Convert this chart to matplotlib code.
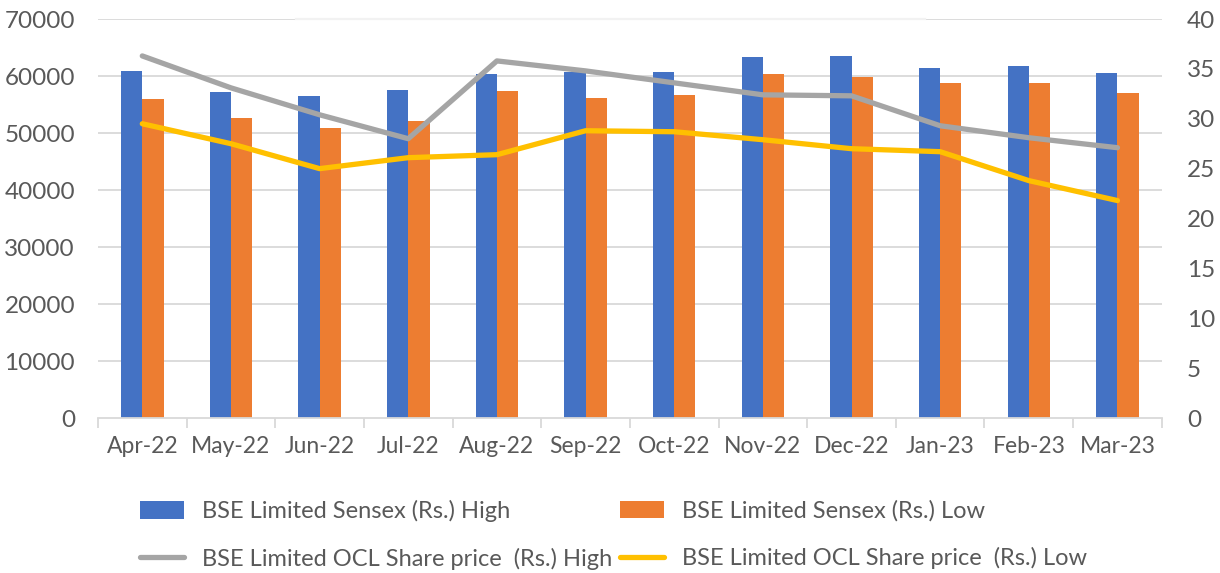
import matplotlib.pyplot as plt
import numpy as np

months = ["Apr-22", "May-22", "Jun-22", "Jul-22", "Aug-22", "Sep-22",
          "Oct-22", "Nov-22", "Dec-22", "Jan-23", "Feb-23", "Mar-23"]
sensex_high = [60850, 57180, 56430, 57570, 60410, 60680,
               60790, 63300, 63580, 61340, 61680, 60500]
sensex_low = [56010, 52630, 50920, 52100, 57370, 56150,
              56680, 60430, 59750, 58700, 58790, 57080]
ocl_high = [36.3, 33.1, 30.4, 28.0, 35.8, 34.8,
            33.6, 32.4, 32.3, 29.3, 28.1, 27.1]
ocl_low = [29.5, 27.5, 25.0, 26.1, 26.4, 28.8,
           28.7, 27.9, 27.0, 26.7, 23.8, 21.8]

plt.rcParams['font.family'] = ['Lato', 'DejaVu Sans']
txt = '#595959'
grid = '#d9d9d9'

fig = plt.figure(figsize=(12.2, 5.73), dpi=100)
ax = fig.add_axes([0.0803, 0.2705, 0.872, 0.6963])
ax2 = ax.twinx()

x = np.arange(len(months))
w = 0.24
b1 = ax.bar(x - w/2, sensex_high, w, color='#4472c4', zorder=2,
            label='BSE Limited Sensex (Rs.) High')
b2 = ax.bar(x + w/2, sensex_low, w, color='#ed7d31', zorder=2,
            label='BSE Limited Sensex (Rs.) Low')
l1, = ax2.plot(x, ocl_high, color='#a5a5a5', lw=3.8, solid_capstyle='round',
               solid_joinstyle='round', label='BSE Limited OCL Share price  (Rs.) High')
l2, = ax2.plot(x, ocl_low, color='#ffc000', lw=3.8, solid_capstyle='round',
               solid_joinstyle='round', label='BSE Limited OCL Share price  (Rs.) Low')

ax.set_xlim(-0.5, len(months) - 0.5)
ax.set_ylim(0, 70000)
ax.set_yticks(np.arange(0, 70001, 10000))
ax2.set_ylim(0, 40)
ax2.set_yticks(np.arange(0, 41, 5))

for yv in np.arange(10000, 70001, 10000):
    ax.axhline(yv, color=grid, lw=1.3, zorder=0)
# lighter stretch of the top gridline
ax.plot([1.73, 8.83], [70000, 70000], color='#f2f2f2', lw=1.6, zorder=1, clip_on=False)

for a in (ax, ax2):
    for s in a.spines.values():
        s.set_visible(False)
ax.spines['bottom'].set_visible(True)
ax.spines['bottom'].set_color(grid)
ax.spines['bottom'].set_linewidth(1.3)

ax.set_xticks(x)
ax.set_xticklabels(months)
ax.set_xticks(np.arange(-0.5, len(months), 1), minor=True)
ax.tick_params(axis='x', which='major', length=0, pad=13, labelsize=16.5, labelcolor=txt)
ax.tick_params(axis='x', which='minor', length=7, width=1.3, color=grid)
ax.tick_params(axis='y', length=0, pad=16.5, labelsize=17.5, labelcolor=txt)
ax2.tick_params(axis='y', length=0, pad=18, labelsize=17.5, labelcolor=txt)

leg_kw = dict(loc='upper left', frameon=False, fontsize=17, labelcolor=txt,
              handlelength=1.86, handleheight=0.75, handletextpad=0.76,
              labelspacing=1.08, borderpad=0, borderaxespad=0)
fig.legend([b1, l1], [b1.get_label(), l1.get_label()],
           bbox_to_anchor=(140 / 1220, 1 - 500 / 573), **leg_kw)
fig.legend([b2, l2], [b2.get_label(), l2.get_label()],
           bbox_to_anchor=(620 / 1220, 1 - 500 / 573), **leg_kw)

fig.savefig('out.png', dpi=100)
